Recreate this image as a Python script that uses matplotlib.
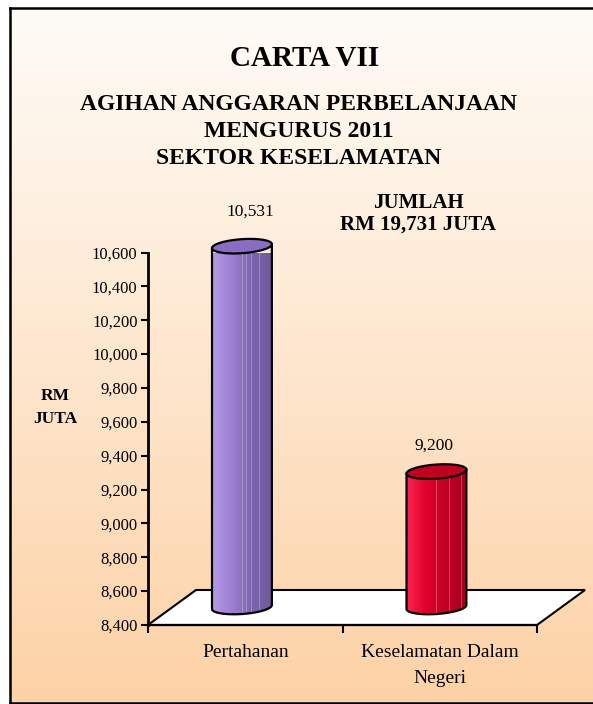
import numpy as np
import matplotlib.pyplot as plt
from matplotlib.patches import Polygon
from matplotlib.colors import LinearSegmentedColormap

plt.rcParams['font.family'] = ['Liberation Serif', 'DejaVu Serif']

# Data
kategori = ['Pertahanan', 'Keselamatan Dalam\nNegeri']
nilai = [10531, 9200]
label_nilai = ['10,531', '9,200']
yticks = list(range(8400, 10601, 200))
tajuk = 'CARTA VII'
subtajuk = ['AGIHAN ANGGARAN PERBELANJAAN', 'MENGURUS 2011', 'SEKTOR KESELAMATAN']
jumlah = ['JUMLAH', 'RM 19,731 JUTA']
unit = ['RM', 'JUTA']

# Gaya
warna_bar = [['#b89ee9', '#9c80d4', '#7d63ad', '#6e5899'],
             ['#ff2a52', '#e0002e', '#c00024', '#9e001c']]
warna_atas = ['#8a6dc2', '#c4001f']
label_offset = [(3.6, 34.6), (-4.3, 28.4)]  # titik

W, H = 593, 704
fig = plt.figure(figsize=(W / 100, H / 100), dpi=100)

# Latar belakang kecerunan + bingkai
bg = fig.add_axes([10 / W, 1 / H, 586 / W, 695 / H], zorder=0)
grad = np.linspace(0, 1, 256).reshape(-1, 1)
cmap_bg = LinearSegmentedColormap.from_list('bg', ['#fffcf8', '#fdd2a6'])
bg.imshow(grad, aspect='auto', cmap=cmap_bg, extent=[0, 1, 0, 1], origin='upper')
bg.set_xticks([])
bg.set_yticks([])
for s in bg.spines.values():
    s.set_linewidth(1.8)
    s.set_color('black')

# Paksi utama
ax_l, ax_b, ax_w, ax_h = 148, 79, 389, 372.5
ax = fig.add_axes([ax_l / W, ax_b / H, ax_w / W, ax_h / H], zorder=1)
ax.patch.set_alpha(0)
xmin, xmax, ymin, ymax = 0, 2, 8400, 10600
sx = ax_w / (xmax - xmin)   # px per unit
sy = ax_h / (ymax - ymin)

# Lantai 3D
dx, dy = 48 / sx, 35 / sy
lantai = Polygon([(0, ymin), (2, ymin), (2 + dx, ymin + dy), (dx, ymin + dy)],
                 closed=True, facecolor='white', edgecolor='black', lw=1.5,
                 clip_on=False, zorder=1)
ax.add_patch(lantai)


def elips(xc, yc, a=30, b=7, sudut=4, t=None):
    if t is None:
        t = np.linspace(0, 2 * np.pi, 120)
    r = np.deg2rad(sudut)
    px = a * np.cos(t) * np.cos(r) - b * np.sin(t) * np.sin(r)
    py = a * np.cos(t) * np.sin(r) + b * np.sin(t) * np.cos(r)
    return np.column_stack([xc + px / sx, yc + py / sy])


naik = 18 / sy
for i, v in enumerate(nilai):
    xc = i + 0.5 - 0.017
    y0 = ymin + naik
    y1 = v + naik
    bawah = elips(xc, y0, t=np.linspace(np.pi, 2 * np.pi, 60))
    atas_kanan = elips(xc, y1, t=np.array([0.0]))
    atas_kiri = elips(xc, y1, t=np.array([np.pi]))
    badan = np.vstack([bawah, atas_kanan, atas_kiri])
    poly = Polygon(badan, closed=True, facecolor='none', edgecolor='black',
                   lw=1.6, zorder=4, clip_on=False)
    ax.add_patch(poly)

    cm = LinearSegmentedColormap.from_list('b%d' % i, warna_bar[i])
    img = cm(np.linspace(0, 1, 120))
    for k in [18, 46, 60, 68, 77, 84, 92, 99, 106, 112]:
        img[k, :3] = img[k, :3] * 0.75 + 0.25
    ext = [xc - 32 / sx, xc + 32 / sx, y0 - 12 / sy, y1 + 12 / sy]
    im = ax.imshow(img.reshape(1, -1, 4), aspect='auto', extent=ext,
                   zorder=3, interpolation='nearest')
    im.set_clip_path(poly)

    tutup = Polygon(elips(xc, y1), closed=True, facecolor=warna_atas[i],
                    edgecolor='black', lw=1.6, zorder=5, clip_on=False)
    ax.add_patch(tutup)

    ax.annotate(label_nilai[i], xy=(i + 0.5, v), xytext=label_offset[i],
                textcoords='offset points', ha='center', va='baseline',
                fontsize=12.5, annotation_clip=False)

    baris = kategori[i].split('\n')
    for j, teks in enumerate(baris):
        ax.annotate(teks, xy=(i + 0.5, ymin), xytext=(0, -23 - 18.8 * j),
                    textcoords='offset points', ha='center', va='baseline',
                    fontsize=14, annotation_clip=False)

ax.set_xlim(xmin, xmax)
ax.set_ylim(ymin, ymax)
ax.set_yticks(yticks)
ax.set_yticklabels([f'{t:,}' for t in yticks])
ax.set_xticks([0, 1, 2])
ax.set_xticklabels([])
ax.tick_params(axis='y', direction='out', length=5, width=1.5, labelsize=12, pad=2.5)
ax.tick_params(axis='x', direction='out', length=5.5, width=1.5)
ax.spines['top'].set_visible(False)
ax.spines['right'].set_visible(False)
ax.spines['left'].set_linewidth(2)
ax.spines['bottom'].set_linewidth(1.6)

# Tajuk
fig.text(305 / W, 1 - 66 / H, tajuk, ha='center', va='baseline',
         fontsize=21, fontweight='bold')
for teks, yb in zip(subtajuk, [110, 137, 164]):
    fig.text(299 / W, 1 - yb / H, teks, ha='center', va='baseline',
             fontsize=17, fontweight='bold')
for teks, yb in zip(jumlah, [208, 230]):
    fig.text(418 / W, 1 - yb / H, teks, ha='center', va='baseline',
             fontsize=15, fontweight='bold')
for teks, yb in zip(unit, [400, 423]):
    fig.text(55.5 / W, 1 - yb / H, teks, ha='center', va='baseline',
             fontsize=12.5, fontweight='bold')

fig.savefig('out.png', dpi=100)
